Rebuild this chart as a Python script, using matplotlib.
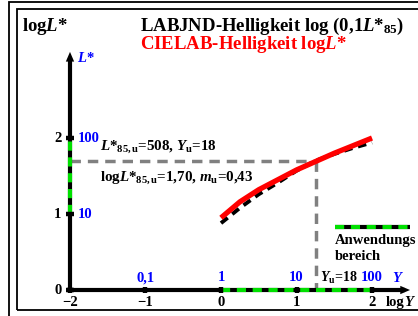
import matplotlib
matplotlib.use("Agg")
import matplotlib.pyplot as plt
from matplotlib.patches import Rectangle

plt.rcParams['font.family'] = ['Liberation Serif', 'DejaVu Serif']
plt.rcParams['font.weight'] = 'bold'
plt.rcParams['mathtext.fontset'] = 'custom'
plt.rcParams['mathtext.rm'] = 'Liberation Serif:bold'
plt.rcParams['mathtext.bf'] = 'Liberation Serif:bold'
plt.rcParams['mathtext.it'] = 'Liberation Serif:italic:bold'

# ---- data ----
log_y = [0.0, 0.25, 0.5, 0.75, 1.0, 1.25, 1.5, 1.75, 2.0]
cielab_log_l = [0.95, 1.16, 1.32, 1.45, 1.58, 1.69, 1.80, 1.90, 2.00]
labjnd_log_l = [0.88, 1.08, 1.26, 1.41, 1.57, 1.70, 1.79, 1.87, 1.94]
x_ticks = [-2, -1, 0, 1, 2]
x_tick_labels = ['\u22122', '\u22121', '0', '1', '2']
y_value_labels = ['0,1', '1', '10', '100']   # Y at log Y = -1..2
y_ticks = [0, 1, 2]
y_tick_labels = ['0', '1', '2']
l_value_labels = ['10', '100']               # L* at log L* = 1, 2
log_yu = 1.255
log_lu = 1.70
range_x = [0, 2]
range_y = [1, 2]

W, H = 418, 316
fig = plt.figure(figsize=(W / 100, H / 100), dpi=100)
ax = fig.add_axes([0, 0, 1, 1])
ax.set_xlim(-2.927, 2.609)
ax.set_ylim(-0.342, 3.816)
ax.axis('off')

# frames (figure pixel coordinates)
def px(x, y):
    return x / W, 1 - y / H
fig.add_artist(Rectangle(px(9, 330), (430 - 9) / W, (330 - 1.5) / H, fill=False,
                         lw=1.3, ec='black', transform=fig.transFigure))
fig.add_artist(Rectangle(px(17, 310), (425 - 17) / W, (310 - 9) / H, fill=False,
                         lw=1.3, ec='black', transform=fig.transFigure))

AXLW = 3.0
# axes lines with arrows
ax.plot([-2, 2.44], [0, 0], color='black', lw=AXLW, solid_capstyle='butt', zorder=3)
ax.annotate('', xy=(2.54, 0), xytext=(2.40, 0),
            arrowprops=dict(arrowstyle='-|>,head_length=0.7,head_width=0.3', color='black', lw=0),
            zorder=3)
ax.plot([-2, -2], [0, 3.05], color='black', lw=AXLW, solid_capstyle='butt', zorder=3)
ax.annotate('', xy=(-2, 3.17), xytext=(-2, 3.0),
            arrowprops=dict(arrowstyle='-|>,head_length=0.7,head_width=0.3', color='black', lw=0),
            zorder=3)

# application range (green dashes)
ax.plot(range_x, [0, 0], color='#00e000', lw=AXLW, dashes=(2.2, 1.6), zorder=4)
ax.plot([-2, -2], range_y, color='#00e000', lw=AXLW, dashes=(2.2, 1.6), zorder=4)

# ticks
for t in x_ticks:
    ax.plot([t, t], [-0.035, 0.045], color='black', lw=3.2, solid_capstyle='butt', zorder=5)
for t in y_ticks:
    ax.plot([-2.05, -1.95], [t, t], color='black', lw=3.2, solid_capstyle='butt', zorder=5)

# gray dashed guide lines
ax.plot([-2, log_yu], [log_lu, log_lu], color='#808080', lw=2.5, dashes=(3, 2), zorder=2)
ax.plot([log_yu, log_yu], [log_lu, 0], color='#808080', lw=2.5, dashes=(3, 2), zorder=2)

# curves
ax.plot(log_y, labjnd_log_l, color='black', lw=2.8, dashes=(2.2, 1.5), zorder=6)
ax.plot(log_y, cielab_log_l, color='#ff0000', lw=3.8, solid_capstyle='butt', zorder=7)

# legend
ax.plot([1.51, 2.50], [0.83, 0.83], color='black', lw=AXLW, solid_capstyle='butt', zorder=3)
ax.plot([1.51, 2.50], [0.83, 0.83], color='#00e000', lw=AXLW, dashes=(2.2, 1.6), zorder=4)
ax.text(1.51, 0.655, 'Anwendungs', fontsize=10.5, va='center', ha='left')
ax.text(1.51, 0.445, 'bereich', fontsize=10.5, va='center', ha='left')

# tick labels
for t, lab in zip(x_ticks, x_tick_labels):
    ax.text(t, -0.165, lab, fontsize=10.5, ha='center', va='center')
for t, lab in zip(y_ticks, y_tick_labels):
    ax.text(-2.16, t, lab, fontsize=10.5, ha='center', va='center')
for t, lab in zip([-1, 0, 1, 2], y_value_labels):
    ax.text(t, 0.16, lab, fontsize=10.5, ha='center', va='center', color='#0000ff')
ax.text(2.27, 0.16, r'$Y$', fontsize=10.5, ha='left', va='center', color='#0000ff')
for t, lab in zip([1, 2], l_value_labels):
    ax.text(-1.895, t, lab, fontsize=10.5, ha='left', va='center', color='#0000ff')
ax.text(-1.905, 3.05, r'$L$*', fontsize=10.5, ha='left', va='center', color='#0000ff')

ax.text(2.18, -0.16, 'log', fontsize=10.5, ha='left', va='center')
ax.text(2.43, -0.16, r'$Y$', fontsize=10.5, ha='left', va='center')
ax.text(1.31, 0.16, r'$Y_{\mathrm{u}}$=18', fontsize=10, ha='left', va='center')

# annotations
ax.text(-1.60, 1.88, r'$L$*$_{85,\mathrm{u}}$=508, $Y_{\mathrm{u}}$=18', fontsize=10.8,
        ha='left', va='center')
ax.text(-1.60, 1.47, r'log$L$*$_{85,\mathrm{u}}$=1,70, $m_{\mathrm{u}}$=0,43', fontsize=10.8,
        ha='left', va='center')

# titles
ax.text(-2.636, 3.41, r'log$L$*', fontsize=13.5, ha='left', va='baseline')
ax.text(-1.073, 3.41, r'LABJND-Helligkeit log (0,1$L$*$_{85}$)', fontsize=13.5,
        ha='left', va='baseline')
ax.text(-1.073, 3.165, r'CIELAB-Helligkeit log$L$*', fontsize=13.5, ha='left',
        va='baseline', color='#ff0000')

fig.savefig('out.png', dpi=100)
